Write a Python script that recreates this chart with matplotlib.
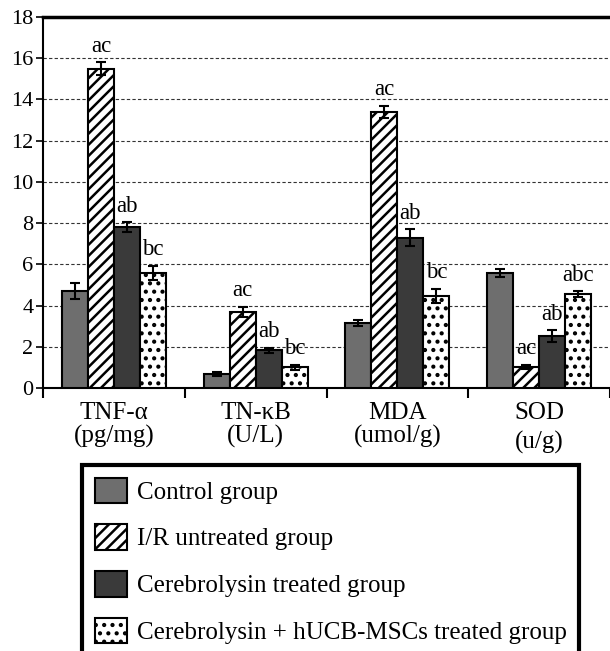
import numpy as np
import matplotlib
matplotlib.use("Agg")
import matplotlib.pyplot as plt
from matplotlib.patches import Patch

plt.rcParams['font.family'] = ['Liberation Serif', 'DejaVu Serif']
plt.rcParams['hatch.linewidth'] = 1.8

markers = ['TNF-\u03b1\n(pg/mg)', 'TN-\u03baB\n(U/L)', 'MDA\n(umol/g)', 'SOD\n(u/g)']
groups = ['Control group', 'I/R untreated group',
          'Cerebrolysin treated group', 'Cerebrolysin + hUCB-MSCs treated group']

control = [4.7, 0.68, 3.15, 5.57]
control_err = [0.4, 0.08, 0.15, 0.2]
ir_untreated = [15.5, 3.68, 13.4, 1.03]
ir_err = [0.3, 0.25, 0.3, 0.1]
cerebro = [7.8, 1.84, 7.3, 2.52]
cerebro_err = [0.25, 0.12, 0.4, 0.27]
combo = [5.57, 1.0, 4.47, 4.55]
combo_err = [0.35, 0.12, 0.35, 0.15]

letters = [
    ['', '', '', ''],
    ['ac', 'ac', 'ac', 'ac'],
    ['ab', 'ab', 'ab', 'ab'],
    ['bc', 'bc', 'bc', 'abc'],
]

series = [control, ir_untreated, cerebro, combo]
errors = [control_err, ir_err, cerebro_err, combo_err]
faces = ['#6e6e6e', 'white', '#3a3a3a', 'white']
hatches = [None, '///', None, '..']

fig = plt.figure(figsize=(6.10, 6.51), dpi=100)
ax = fig.add_axes([43 / 610, 1 - 388 / 651, 1 - 43 / 610, (388 - 17) / 651])

x = np.arange(len(markers))
w = 0.183
for i, (vals, errs) in enumerate(zip(series, errors)):
    pos = x + (i - 1.5) * w
    ax.bar(pos, vals, w, color=faces[i], edgecolor='black', linewidth=1.5,
           hatch=hatches[i], zorder=3)
    ax.errorbar(pos, vals, yerr=errs, fmt='none', ecolor='black',
                elinewidth=1.5, capsize=3.6, capthick=1.5, zorder=4)
    for p, v, e, t in zip(pos, vals, errs, letters[i]):
        if t:
            ax.annotate(t, (p, v + e), xytext=(0, 4), textcoords='offset points',
                        ha='center', va='bottom', fontsize=16.5)

ax.set_xlim(-0.5, 3.5)
ax.set_ylim(0, 18)
ax.set_yticks(np.arange(0, 19, 2))
ax.tick_params(axis='y', direction='out', length=5, width=1.2, pad=2, labelsize=16)

ax.set_xticks(x)
ax.set_xticklabels(markers, fontsize=18)
ax.set_xticks(np.arange(-0.5, 3.6, 1), minor=True)
ax.tick_params(axis='x', which='major', length=0, pad=10)
ax.tick_params(axis='x', which='minor', direction='out', length=7, width=1.5)
for lab in ax.get_xticklabels():
    lab.set_linespacing(1.05)
ax.get_xticklabels()[-1].set_linespacing(1.4)

for yv in np.arange(2, 17, 2):
    ax.axhline(yv, color='#333333', lw=0.8, ls=(0, (3, 2)), zorder=1)

ax.spines['right'].set_visible(False)
ax.spines['top'].set_linewidth(2.5)
ax.spines['left'].set_linewidth(1.5)
ax.spines['bottom'].set_linewidth(1.5)

handles = [Patch(facecolor=faces[i], edgecolor='black', hatch=hatches[i], linewidth=1.5)
           for i in range(4)]
leg = fig.legend(handles, groups, loc='upper left',
                 bbox_to_anchor=(82 / 610, 1 - 465 / 651), fontsize=18,
                 handlelength=1.3, handleheight=1.2, handletextpad=0.4,
                 labelspacing=0.82, borderpad=0.5, borderaxespad=0,
                 fancybox=False, framealpha=1)
leg.get_frame().set_edgecolor('black')
leg.get_frame().set_linewidth(3)

fig.savefig('out.png', dpi=100)
